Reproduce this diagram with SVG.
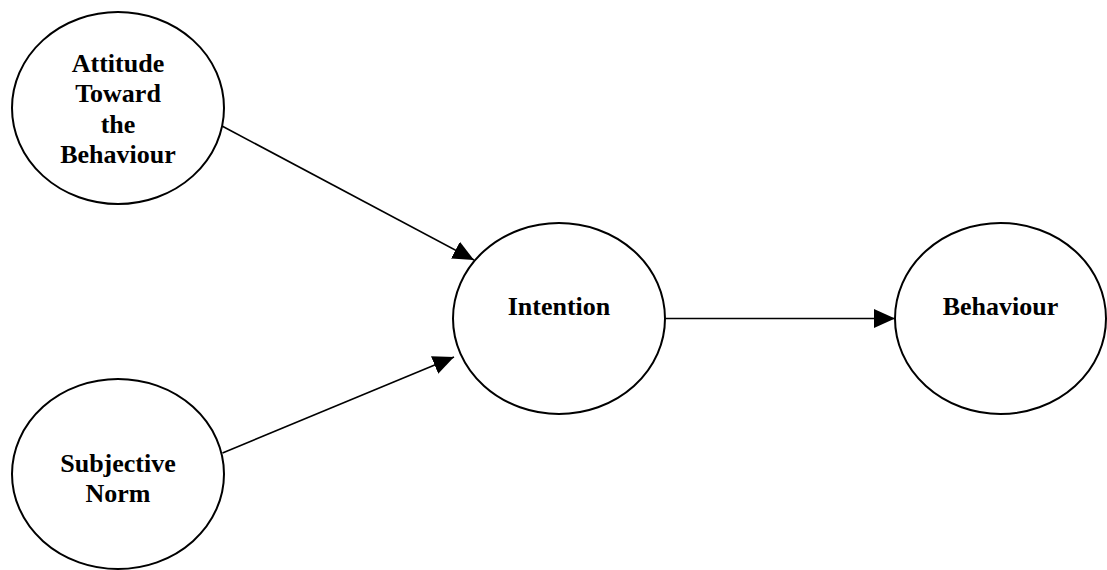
<svg xmlns="http://www.w3.org/2000/svg" width="1107" height="570" viewBox="0 0 1107 570">
<style>
.node ellipse{fill:#fff;stroke:#000;stroke-width:2}
.node text{font-family:"Liberation Serif","Times New Roman",serif;font-weight:bold;font-size:26px;fill:#000;text-anchor:middle}
.edge{stroke:#000;stroke-width:1.6;fill:none;marker-end:url(#ah)}
</style>
<defs>
<marker id="ah" markerUnits="userSpaceOnUse" markerWidth="22" markerHeight="20" refX="21" refY="9.5" orient="auto">
<path d="M0,0 L21,9.5 L0,19 z" fill="#000"/>
</marker>
</defs>
<rect width="1107" height="570" fill="#fff"/>
<g id="connectors">
<line class="edge" x1="222" y1="126" x2="474" y2="260"/>
<line class="edge" x1="222.5" y1="453" x2="454" y2="357"/>
<line class="edge" x1="666" y1="318.5" x2="895" y2="318.5"/>
</g>
<g id="attitude" class="node">
<ellipse cx="118" cy="108" rx="106" ry="96"/>
<text x="118" y="72">Attitude</text>
<text x="118" y="102">Toward</text>
<text x="118" y="133">the</text>
<text x="118" y="163">Behaviour</text>
</g>
<g id="subjective-norm" class="node">
<ellipse cx="118" cy="474" rx="106" ry="95"/>
<text x="118" y="472">Subjective</text>
<text x="118" y="502">Norm</text>
</g>
<g id="intention" class="node">
<ellipse cx="559" cy="318.5" rx="106" ry="95.5"/>
<text x="559" y="315">Intention</text>
</g>
<g id="behaviour" class="node">
<ellipse cx="1000.5" cy="318.5" rx="105.5" ry="95.5"/>
<text x="1000.5" y="315">Behaviour</text>
</g>
</svg>
